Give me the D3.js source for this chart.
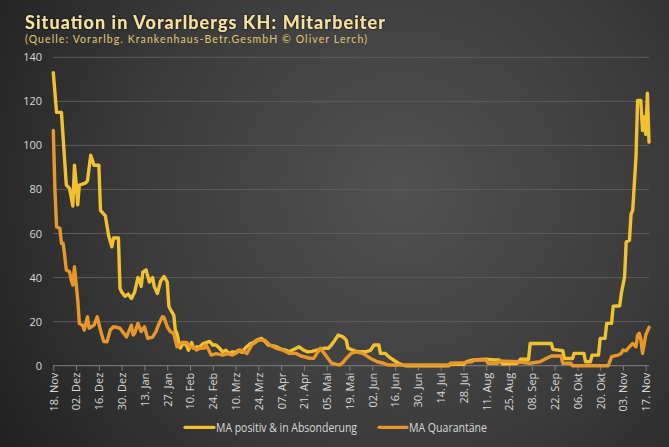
<!DOCTYPE html>
<html><head><meta charset="utf-8">
<script src="https://cdn.jsdelivr.net/npm/d3@7/dist/d3.min.js"></script>
<style>html,body{margin:0;padding:0;background:#2b2b2b;}svg{display:block;}</style>
</head><body>
<script>
const titleText = "Situation in Vorarlbergs KH: Mitarbeiter";
const subtitleText = "(Quelle: Vorarlbg. Krankenhaus-Betr.GesmbH \u00A9 Oliver Lerch)";
const seriesNames = ["MA positiv & in Absonderung", "MA Quarant\u00E4ne"];
const startDate = "2020-11-18";
const yTicks = [0, 20, 40, 60, 80, 100, 120, 140];
const tickLabels = ["18. Nov","02. Dez","16. Dez","30. Dez","13. Jan","27. Jan","10. Feb","24. Feb","10. Mrz","24. Mrz","07. Apr","21. Apr","05. Mai","19. Mai","02. Jun","16. Jun","30. Jun","14. Jul","28. Jul","11. Aug","25. Aug","08. Sep","22. Sep","06. Okt","20. Okt","03. Nov","17. Nov"];

// days since 18 Nov 2020 and values
const posDays = [0,2,5,6,8,10,12,13,14,15,16,20,21,23,25,28,29,32,34,36,37,40,41,42,44,46,48,50,52,53,54,55,57,59,61,62,64,66,68,70,71,72,74,75,76,77,78,80,82,83,85,86,88,90,92,94,96,98,100,102,104,106,108,110,112,114,116,118,121,123,125,128,130,132,135,137,140,143,145,148,151,154,156,159,162,166,169,171,173,175,178,180,181,184,187,192,195,197,200,201,204,206,209,212,216,243,244,252,254,258,266,271,274,276,285,287,292,293,306,307,313,314,319,320,326,327,330,331,335,336,339,340,343,344,348,349,351,352,354,355,356,358,359,361,362,363,364,365,366];
const posValues = [133,115,115,104,82,80.5,72.5,91,83,73,82,83,84,95.5,91,91,70.5,68,59,54,58,58,35,33.5,31.5,32.5,30.5,33.5,40,38.8,36,42.5,43.5,38,40,36,32.8,38.5,40.5,38,27,25.5,23,16,14.7,11,8,10.5,9,7,10.5,8,8.5,8.6,10,10.5,11,9.4,9.4,8,6.3,7,5.5,6.3,6,7.1,6,8,10,10.5,11.6,12.4,11,9.4,9,8.6,7.5,7,6.3,7.5,8.6,7,6.3,6.5,7.1,7.9,7.9,9.5,11.6,13.9,13.1,11.6,8,7.1,6.3,6.3,7.1,9.4,9.4,5.6,5.6,4.1,2.6,1.1,0,0,0.6,0.6,1.8,2.6,2.9,2.6,2.6,0.8,1.1,2.9,2.9,10.1,10.1,7.4,6.8,3.3,3.3,5.6,5.6,1.8,1.8,4.8,4.8,12.4,12.4,19.2,19.2,27,27.2,32.8,40.3,56.2,57,69,70.5,94.7,120.4,120.4,106.8,113,105,123.7,101.5];

const quarDays = [0,1,2,4,5,6,7,8,10,11,12,13,14,15,16,18,19,21,22,25,27,29,31,33,35,37,41,43,45,48,49,50,52,54,56,58,61,63,65,67,68,70,72,74,76,79,82,84,86,88,90,93,94,97,100,104,107,110,113,115,119,122,124,126,130,133,137,141,145,149,152,154,157,160,164,168,171,176,178,180,183,186,190,195,199,203,206,243,244,252,257,259,266,267,273,274,285,293,299,301,306,312,313,318,319,341,343,347,349,350,352,354,356,358,359,360,361,362,364,366];
const quarValues = [106.8,80,63,62.4,55.6,55.6,50,43.4,42.6,38.8,36.6,44.9,37.3,30,19.2,18.4,16.2,22.2,17,18.4,22.2,16,11,10.9,16.2,17.7,17,15,13.1,18.4,13.9,14.7,19.2,15.5,17.7,12.4,13,15.4,19.2,22.2,22,17.7,15.4,14.7,8.6,10.5,10.5,8.6,8.5,7.1,7.9,8,9.4,4.8,5.5,4.8,5.5,4.8,6,7.1,5.6,9.4,10.5,11.6,11.6,9.4,7.9,7.1,5.6,5.6,4.5,4.1,3.5,3.3,7.9,4.1,1.1,0.3,1.5,3.3,5.6,6.3,5.6,3.3,1.8,1.1,0.3,0.3,1.1,1.4,1.8,2.6,2.6,1.1,1.1,2.2,1.8,1.1,1.8,2.6,4.4,4.4,1.1,1.1,0,0,4.1,4.8,5.6,7.1,6.8,8.6,10.1,8.6,13.9,14.7,12,5.6,13.9,17.4];

const colors = ["#f2c12e", "#e8982a"];

const W = 669, H = 447;
const svg = d3.select("body").append("svg").attr("width", W).attr("height", H);
const defs = svg.append("defs");
const rg = defs.append("radialGradient").attr("id","bg")
  .attr("gradientUnits","userSpaceOnUse").attr("cx",400).attr("cy",190).attr("r",480);
rg.append("stop").attr("offset","0%").attr("stop-color","#515151");
rg.append("stop").attr("offset","55%").attr("stop-color","#3b3b3b");
rg.append("stop").attr("offset","100%").attr("stop-color","#202020");
svg.append("rect").attr("width",W).attr("height",H).attr("fill","url(#bg)");

const parse = d3.timeParse("%Y-%m-%d");
const d0 = parse(startDate);
const dayToDate = d => d3.timeDay.offset(d0, d);

const x = d3.scaleTime().domain([d0, dayToDate(366)]).range([53.3, 649]);
const y = d3.scaleLinear().domain([0, 140]).range([365.7, 57.3]);

// gridlines
svg.append("g").selectAll("line").data(yTicks.filter(t => t > 0)).join("line")
  .attr("x1", 53).attr("x2", 649)
  .attr("y1", d => y(d)).attr("y2", d => y(d))
  .attr("stroke", "#5c5c5c").attr("stroke-width", 1);

// y labels
svg.append("g").selectAll("text").data(yTicks).join("text")
  .attr("x", 42).attr("y", d => y(d) + 4)
  .attr("text-anchor", "end")
  .attr("font-family", "Open Sans, sans-serif").attr("font-size", 11)
  .attr("fill", "#d9d9d9").text(d => d);

// x axis
const tickDates = tickLabels.map((t, i) => dayToDate(i * 14));
const xAxis = d3.axisBottom(x).tickValues(tickDates).tickSize(5).tickFormat((d, i) => tickLabels[i]);
const gx = svg.append("g").attr("transform", `translate(0,${y(0)})`).call(xAxis);
gx.select(".domain").attr("stroke", "#808080").attr("d", `M53,0H649`);
gx.selectAll(".tick line").attr("stroke", "#808080");
gx.selectAll(".tick text")
  .attr("font-family", "Open Sans, sans-serif").attr("font-size", 11)
  .attr("fill", "#d9d9d9")
  .attr("text-anchor", "end")
  .attr("transform", "rotate(-90)")
  .attr("x", -7).attr("y", 0).attr("dy", "0.35em");

// lines
const line = d3.line().x(d => x(dayToDate(d[0]))).y(d => y(d[1])).curve(d3.curveLinear);
const posData = posDays.map((d, i) => [d, posValues[i]]);
const quarData = quarDays.map((d, i) => [d, quarValues[i]]);
[posData, quarData].forEach((data, i) => {
  svg.append("path").datum(data).attr("d", line)
    .attr("fill", "none").attr("stroke", colors[i]).attr("stroke-width", 3.4)
    .attr("stroke-linejoin", "round").attr("stroke-linecap", "round");
});

// title
defs.append("filter").attr("id","glow").html('<feDropShadow dx="0" dy="0" stdDeviation="1" flood-color="#000" flood-opacity="0.9"/>');
svg.append("text").attr("x", 25).attr("y", 28.5)
  .attr("font-family", "Lato, sans-serif").attr("font-weight", "bold").attr("font-size", 18)
  .attr("fill", "#f7e3a1").attr("filter","url(#glow)")
  .attr("textLength", 360).attr("lengthAdjust", "spacing")
  .text(titleText);
svg.append("text").attr("x", 25).attr("y", 42.5)
  .attr("font-family", "Lato, sans-serif").attr("font-size", 10.5)
  .attr("fill", "#e2c874")
  .attr("textLength", 342).attr("lengthAdjust", "spacing")
  .text(subtitleText);

// legend
const legend = [
  {x1: 185, x2: 214, tx: 216, tl: 141},
  {x1: 379, x2: 407, tx: 409, tl: 78}
];
legend.forEach((l, i) => {
  svg.append("line").attr("x1", l.x1).attr("x2", l.x2).attr("y1", 427.3).attr("y2", 427.3)
    .attr("stroke", colors[i]).attr("stroke-width", 3.2).attr("stroke-linecap","round");
  svg.append("text").attr("x", l.tx).attr("y", 431.5)
    .attr("font-family", "Open Sans, sans-serif").attr("font-size", 12)
    .attr("fill", "#d9d9d9")
    .attr("textLength", l.tl).attr("lengthAdjust", "spacingAndGlyphs")
    .text(seriesNames[i]);
});
</script>
</body></html>
